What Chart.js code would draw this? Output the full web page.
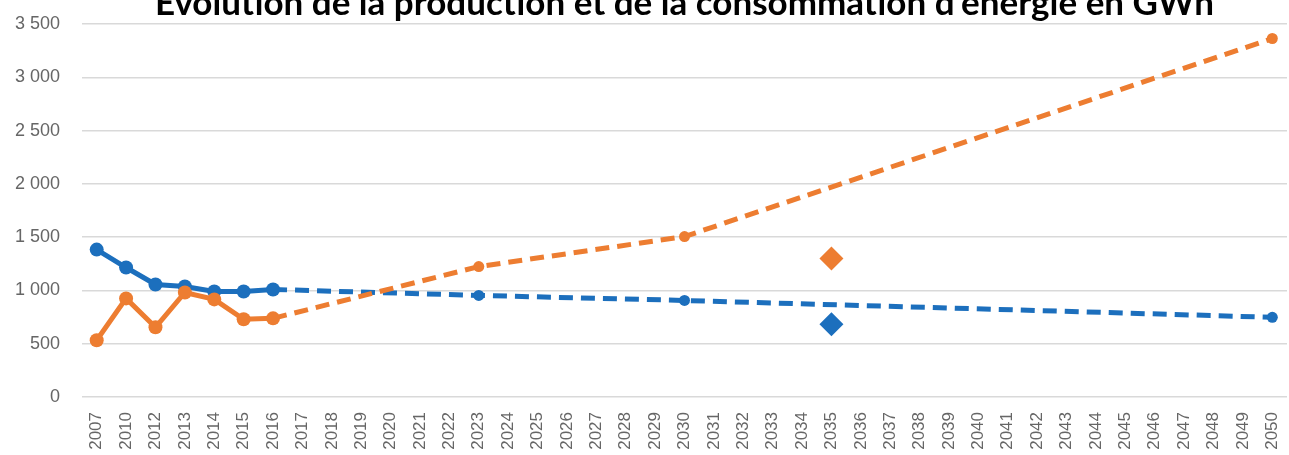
<!DOCTYPE html>
<html lang="fr">
<head>
<meta charset="utf-8">
<title>Évolution de la production et de la consommation d'énergie en GWh</title>
<script src="https://cdn.jsdelivr.net/npm/chart.js@4.4.1/dist/chart.umd.min.js"></script>
<style>
  html, body { margin: 0; padding: 0; background: #fff; overflow: hidden; }
  canvas { display: block; }
</style>
</head>
<body>
<canvas id="energyChart" width="1289" height="455"></canvas>
<script>
    // years on the category axis
    const years = ['2007', '2010', '2012', '2013', '2014', '2015', '2016'];
    for (let y = 2017; y <= 2050; y++) years.push(String(y));

    const titleText = "Évolution de la production et de la consommation d'énergie en GWh";

    // blue series : measured 2007-2016
    const blueHist = [1383, 1215, 1056, 1037, 990, 990, 1009];
    // blue projection points (2016 -> 2050)
    const blueProj = { '2016': 1009, '2023': 953, '2030': 906, '2050': 748 };
    // orange series : measured 2007-2016
    const orangeHist = [533, 925, 654, 981, 916, 729, 738];
    const orangeProj = { '2016': 738, '2023': 1224, '2030': 1505, '2050': 3364 };
    // single 2035 targets (diamonds)
    const blueTarget = { '2035': 682 };
    const orangeTarget = { '2035': 1299 };

    const yTicks = [0, 500, 1000, 1500, 2000, 2500, 3000, 3500];

    const BLUE = '#1c6fbd';
    const ORANGE = '#ed7d31';

    function fromMap(map) {
      return years.map(y => (map[y] !== undefined ? map[y] : null));
    }
    function histData(arr) {
      return years.map((y, i) => (i < arr.length ? arr[i] : null));
    }
    function fmt(v) {
      return String(v).replace(/\B(?=(\d{3})+(?!\d))/g, ' ');
    }

    const titlePlugin = {
      id: 'topTitle',
      afterDraw(chart) {
        const { ctx, chartArea } = chart;
        ctx.save();
        ctx.font = 'bold 35px Lato';
        ctx.fillStyle = '#000';
        ctx.textAlign = 'center';
        ctx.textBaseline = 'alphabetic';
        ctx.fillText(titleText, (chartArea.left + chartArea.right) / 2, 15);
        ctx.restore();
      }
    };

    const ctx = document.getElementById('energyChart').getContext('2d');
    const chart = new Chart(ctx, {
      type: 'line',
      data: {
        labels: years,
        datasets: [
          {
            data: fromMap(blueProj),
            borderColor: BLUE,
            backgroundColor: BLUE,
            borderWidth: 5,
            borderDash: [14, 8],
            spanGaps: true,
            pointRadius: (c) => (years[c.dataIndex] === '2016' ? 0 : 5.5),
            pointBorderWidth: 0,
            order: 4
          },
          {
            data: histData(blueHist),
            borderColor: BLUE,
            backgroundColor: BLUE,
            borderWidth: 5,
            pointRadius: 7,
            pointBorderWidth: 0,
            order: 3
          },
          {
            data: fromMap(orangeProj),
            borderColor: ORANGE,
            backgroundColor: ORANGE,
            borderWidth: 5,
            borderDash: [14, 8],
            spanGaps: true,
            pointRadius: (c) => (years[c.dataIndex] === '2016' ? 0 : 5.5),
            pointBorderWidth: 0,
            order: 2
          },
          {
            data: histData(orangeHist),
            borderColor: ORANGE,
            backgroundColor: ORANGE,
            borderWidth: 5,
            pointRadius: 7,
            pointBorderWidth: 0,
            order: 1
          },
          {
            data: fromMap(blueTarget),
            showLine: false,
            pointStyle: 'rectRot',
            pointRadius: 12,
            pointBorderWidth: 0,
            backgroundColor: BLUE,
            borderColor: BLUE,
            order: 0
          },
          {
            data: fromMap(orangeTarget),
            showLine: false,
            pointStyle: 'rectRot',
            pointRadius: 12,
            pointBorderWidth: 0,
            backgroundColor: ORANGE,
            borderColor: ORANGE,
            order: 0
          }
        ]
      },
      options: {
        responsive: false,
        animation: false,
        layout: { autoPadding: false, padding: { top: 24, left: 0, right: 2, bottom: 0 } },
        plugins: {
          legend: { display: false },
          tooltip: { enabled: false },
          title: { display: false }
        },
        scales: {
          x: {
            offset: true,
            grid: { display: false, drawTicks: false },
            border: { display: false },
            ticks: {
              autoSkip: false,
              minRotation: 90,
              maxRotation: 90,
              padding: 15,
              color: '#666',
              font: { family: 'Liberation Sans', size: 17 }
            },
            afterFit(scale) {
              scale.height = 58;
              scale.paddingLeft = 0;
              scale.paddingRight = 0;
            }
          },
          y: {
            min: 0,
            max: 3500,
            afterBuildTicks(axis) {
              axis.ticks = yTicks.map(v => ({ value: v }));
            },
            grid: { color: '#d9d9d9', lineWidth: 1.5, drawTicks: false },
            border: { display: false },
            ticks: {
              padding: 22,
              color: '#666',
              font: { family: 'Liberation Sans', size: 18 },
              callback: (v) => fmt(v)
            },
            afterFit(scale) {
              scale.width = 82;
              scale.paddingTop = 0;
              scale.paddingBottom = 0;
            }
          }
        }
      },
      plugins: [titlePlugin]
    });
</script>
</body>
</html>
